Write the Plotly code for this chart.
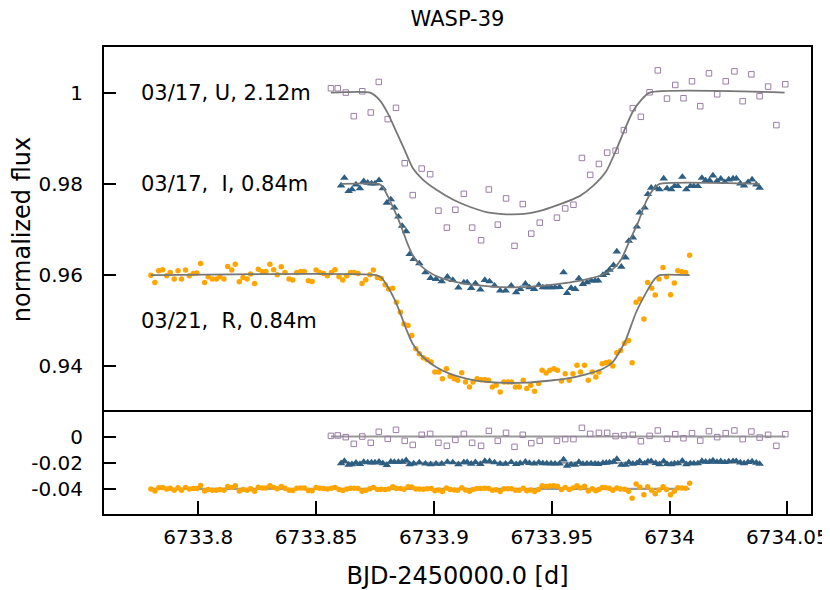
import plotly.graph_objects as go

# ---- data ----
# 03/21, R band, 0.84m
r_time = [6733.7799, 6733.7816, 6733.7832, 6733.7849, 6733.7866, 6733.7881, 6733.7898, 6733.7914, 6733.7929, 6733.7946,
          6733.7962, 6733.7979, 6733.7994, 6733.8010, 6733.8027, 6733.8042, 6733.8060, 6733.8077, 6733.8092, 6733.8109,
          6733.8125, 6733.8142, 6733.8157, 6733.8174, 6733.8190, 6733.8207, 6733.8222, 6733.8239, 6733.8255, 6733.8272,
          6733.8287, 6733.8304, 6733.8320, 6733.8335, 6733.8352, 6733.8368, 6733.8385, 6733.8401, 6733.8418, 6733.8435,
          6733.8450, 6733.8467, 6733.8483, 6733.8500, 6733.8515, 6733.8532, 6733.8548, 6733.8565, 6733.8580, 6733.8597,
          6733.8613, 6733.8630, 6733.8646, 6733.8662, 6733.8678, 6733.8695, 6733.8711, 6733.8728, 6733.8743, 6733.8760,
          6733.8776, 6733.8793, 6733.8808, 6733.8825, 6733.8841, 6733.8858, 6733.8873, 6733.8890, 6733.8906, 6733.8923,
          6733.8938, 6733.8955, 6733.8971, 6733.8988, 6733.9004, 6733.9021, 6733.9036, 6733.9053, 6733.9069, 6733.9086,
          6733.9101, 6733.9118, 6733.9134, 6733.9151, 6733.9166, 6733.9183, 6733.9199, 6733.9216, 6733.9232, 6733.9248,
          6733.9264, 6733.9281, 6733.9297, 6733.9314, 6733.9329, 6733.9346, 6733.9362, 6733.9379, 6733.9394, 6733.9411,
          6733.9427, 6733.9444, 6733.9459, 6733.9476, 6733.9492, 6733.9509, 6733.9524, 6733.9541, 6733.9557, 6733.9574,
          6733.9590, 6733.9607, 6733.9622, 6733.9639, 6733.9655, 6733.9672, 6733.9687, 6733.9700, 6733.9714, 6733.9729,
          6733.9744, 6733.9759, 6733.9776, 6733.9792, 6733.9809, 6733.9826, 6733.9841, 6733.9858, 6733.9874, 6733.9891,
          6733.9907, 6733.9924, 6733.9939, 6733.9955, 6733.9972, 6733.9987, 6734.0004, 6734.0020, 6734.0035, 6734.0052,
          6734.0068, 6734.0085]
r_flux = [0.96000, 0.95840, 0.96095, 0.96117, 0.95986, 0.96059, 0.95913, 0.96095, 0.95913, 0.96110,
          0.95986, 0.96037, 0.96044, 0.96255, 0.95840, 0.95964, 0.95913, 0.95913, 0.95964, 0.95913,
          0.96190, 0.96110, 0.96240, 0.95855, 0.95950, 0.95913, 0.96022, 0.95819, 0.96131, 0.96073,
          0.96080, 0.96240, 0.96117, 0.96008, 0.96182, 0.96059, 0.95913, 0.95891, 0.96059, 0.96080,
          0.96080, 0.95877, 0.95862, 0.96110, 0.96059, 0.96037, 0.95986, 0.96059, 0.96117, 0.95964,
          0.95891, 0.95986, 0.96059, 0.96059, 0.96037, 0.95819, 0.95899, 0.96008, 0.96110, 0.95950,
          0.95928, 0.95790, 0.95695, 0.95710, 0.95404, 0.95186, 0.94931, 0.94895, 0.94677, 0.94386,
          0.94277, 0.94189, 0.94146, 0.94095, 0.93877, 0.93877, 0.93731, 0.93949, 0.93782, 0.93731,
          0.93695, 0.93862, 0.93658, 0.93549, 0.93658, 0.93731, 0.93709, 0.93709, 0.93695, 0.93549,
          0.93586, 0.93440, 0.93658, 0.93658, 0.93658, 0.93549, 0.93549, 0.93695, 0.93513, 0.93586,
          0.93455, 0.93622, 0.93913, 0.93855, 0.93913, 0.93949, 0.93913, 0.93680, 0.93840, 0.93695,
          0.93840, 0.94022, 0.93877, 0.94022, 0.93695, 0.93877, 0.93768, 0.93877, 0.94058, 0.94080,
          0.94095, 0.94008, 0.94298, 0.94349, 0.94509, 0.94568, 0.94080, 0.95404, 0.95477, 0.95040,
          0.95840, 0.95710, 0.95564, 0.95913, 0.96168, 0.95964, 0.95571, 0.95826, 0.96095, 0.96073,
          0.96059, 0.96437]
r_resid = [0.0000, -0.0016, 0.0010, 0.0012, -0.0001, 0.0006, -0.0009, 0.0010, -0.0009, 0.0011,
           -0.0001, 0.0004, 0.0004, 0.0026, -0.0016, -0.0004, -0.0009, -0.0009, -0.0004, -0.0009,
           0.0019, 0.0011, 0.0024, -0.0015, -0.0005, -0.0009, 0.0002, -0.0018, 0.0013, 0.0007,
           0.0008, 0.0024, 0.0012, 0.0001, 0.0018, 0.0006, -0.0009, -0.0011, 0.0006, 0.0008,
           0.0008, -0.0012, -0.0014, 0.0011, 0.0006, 0.0004, -0.0001, 0.0006, 0.0012, -0.0004,
           -0.0011, -0.0001, 0.0006, 0.0006, 0.0004, -0.0018, -0.0010, 0.0001, 0.0011, -0.0004,
           -0.0002, -0.0004, -0.0001, 0.0016, 0.0004, 0.0003, -0.0002, 0.0017, 0.0014, -0.0001,
           -0.0001, -0.0002, 0.0002, 0.0003, -0.0013, -0.0008, -0.0019, 0.0008, -0.0005, -0.0008,
           -0.0009, 0.0010, -0.0008, -0.0017, -0.0005, 0.0004, 0.0003, 0.0005, 0.0004, -0.0010,
           -0.0006, -0.0020, 0.0002, 0.0002, 0.0002, -0.0009, -0.0009, 0.0005, -0.0013, -0.0007,
           -0.0020, -0.0004, 0.0024, 0.0018, 0.0022, 0.0025, 0.0020, -0.0004, 0.0011, -0.0005,
           0.0008, 0.0024, 0.0008, 0.0020, -0.0015, 0.0001, -0.0013, -0.0005, 0.0012, 0.0009,
           0.0005, -0.0009, 0.0007, -0.0001, -0.0002, -0.0018, -0.0071, 0.0038, 0.0013, -0.0045,
           0.0017, -0.0010, -0.0036, -0.0008, 0.0017, -0.0004, -0.0045, -0.0017, 0.0010, 0.0007,
           0.0006, 0.0044]
r_model_t = [6733.7799, 6733.8755, 6733.8776, 6733.8797, 6733.8825, 6733.8853, 6733.8882, 6733.8910, 6733.8938, 6733.8967,
             6733.9009, 6733.9066, 6733.9137, 6733.9221, 6733.9306, 6733.9391, 6733.9476, 6733.9561, 6733.9646, 6733.9717,
             6733.9759, 6733.9795, 6733.9816, 6733.9858, 6733.9901, 6733.9936, 6733.9957, 6734.0085]
r_model_f = [0.96, 0.96, 0.95950, 0.95804, 0.95549, 0.95222, 0.94822, 0.94495, 0.94291, 0.94146,
             0.93986, 0.93840, 0.93731, 0.93658, 0.93637, 0.93644, 0.93680, 0.93731, 0.93826, 0.93949,
             0.94095, 0.94386, 0.94604, 0.95186, 0.95622, 0.95913, 0.96, 0.96]

# 03/17, I band, 0.84m
i_time = [6733.8606, 6733.8620, 6733.8638, 6733.8652, 6733.8669, 6733.8686, 6733.8702, 6733.8719, 6733.8735, 6733.8750,
          6733.8767, 6733.8783, 6733.8800, 6733.8817, 6733.8832, 6733.8849, 6733.8865, 6733.8882, 6733.8897, 6733.8914,
          6733.8938, 6733.8964, 6733.8986, 6733.9009, 6733.9033, 6733.9057, 6733.9080, 6733.9104, 6733.9127, 6733.9141,
          6733.9158, 6733.9176, 6733.9197, 6733.9216, 6733.9236, 6733.9257, 6733.9281, 6733.9304, 6733.9328, 6733.9349,
          6733.9366, 6733.9388, 6733.9405, 6733.9425, 6733.9445, 6733.9462, 6733.9479, 6733.9497, 6733.9514, 6733.9533,
          6733.9550, 6733.9565, 6733.9582, 6733.9599, 6733.9615, 6733.9632, 6733.9649, 6733.9667, 6733.9684, 6733.9697,
          6733.9717, 6733.9731, 6733.9745, 6733.9762, 6733.9776, 6733.9795, 6733.9813, 6733.9827, 6733.9844, 6733.9861,
          6733.9873, 6733.9894, 6733.9908, 6733.9922, 6733.9941, 6733.9957, 6733.9975, 6733.9989, 6734.0007, 6734.0021,
          6734.0035, 6734.0054, 6734.0071, 6734.0088, 6734.0103, 6734.0120, 6734.0137, 6734.0153, 6734.0170, 6734.0184,
          6734.0201, 6734.0217, 6734.0234, 6734.0251, 6734.0269, 6734.0283, 6734.0300, 6734.0316, 6734.0333, 6734.0350,
          6734.0368, 6734.0382]
i_flux = [0.97964, 0.98131, 0.97841, 0.97877, 0.97986, 0.97899, 0.98059, 0.98022, 0.98008, 0.98008,
          0.98081, 0.97899, 0.97586, 0.97659, 0.97477, 0.97281, 0.97077, 0.96961, 0.96459, 0.96350,
          0.96255, 0.96059, 0.95935, 0.95913, 0.95862, 0.95964, 0.95891, 0.95724, 0.95841, 0.95841,
          0.95717, 0.95819, 0.95680, 0.95891, 0.95862, 0.95768, 0.95659, 0.95659, 0.95768, 0.95622,
          0.95695, 0.95811, 0.95731, 0.95695, 0.95782, 0.95731, 0.95731, 0.95731, 0.95731, 0.95739,
          0.96059, 0.95608, 0.95717, 0.95695, 0.95928, 0.95804, 0.95841, 0.95877, 0.95877, 0.95877,
          0.96001, 0.96044, 0.96117, 0.96219, 0.96517, 0.96182, 0.96386, 0.96750, 0.96822, 0.97062,
          0.97368, 0.97477, 0.97775, 0.97913, 0.97913, 0.97877, 0.98117, 0.97899, 0.97877, 0.97950,
          0.97950, 0.98153, 0.97877, 0.97950, 0.97950, 0.97950, 0.98131, 0.98073, 0.98073, 0.98182,
          0.98059, 0.98110, 0.98037, 0.98095, 0.98117, 0.98117, 0.98008, 0.97964, 0.98037, 0.98095,
          0.97986, 0.97913]
i_resid = [-0.0004, 0.0013, -0.0016, -0.0012, -0.0001, -0.0010, 0.0006, 0.0002, 0.0001, 0.0001,
           0.0008, -0.0004, -0.0018, 0.0007, 0.0006, 0.0006, 0.0007, 0.0019, -0.0013, -0.0006,
           0.0001, -0.0007, -0.0012, -0.0008, -0.0008, 0.0006, 0.0002, -0.0012, 0.0003, 0.0003,
           -0.0008, 0.0003, -0.0010, 0.0013, 0.0011, 0.0002, -0.0008, -0.0008, 0.0004, -0.0011,
           -0.0004, 0.0007, -0.0002, -0.0006, 0.0002, -0.0004, -0.0005, -0.0006, -0.0007, -0.0007,
           0.0024, -0.0023, -0.0013, -0.0017, 0.0005, -0.0009, -0.0007, -0.0006, -0.0008, -0.0010,
           -0.0002, -0.0001, 0.0002, 0.0007, 0.0028, -0.0017, -0.0017, 0.0003, -0.0008, -0.0003,
           0.0012, -0.0005, 0.0010, 0.0012, -0.0002, -0.0012, 0.0012, -0.0010, -0.0012, -0.0005,
           -0.0005, 0.0015, -0.0012, -0.0005, -0.0005, -0.0005, 0.0013, 0.0007, 0.0007, 0.0018,
           0.0006, 0.0011, 0.0004, 0.0010, 0.0012, 0.0012, 0.0001, -0.0004, 0.0004, 0.0010,
           -0.0001, -0.0009]
i_model_t = [6733.8606, 6733.8766, 6733.8783, 6733.8804, 6733.8825, 6733.8846, 6733.8868, 6733.8889, 6733.8910,
             6733.8931, 6733.8967, 6733.9023, 6733.9122, 6733.9236, 6733.9335, 6733.9434, 6733.9547, 6733.9632,
             6733.9703, 6733.9759, 6733.9795, 6733.9830, 6733.9866, 6733.9901, 6733.9936, 6733.9958, 6734.0382]
i_model_f = [0.98, 0.98, 0.97935, 0.97731, 0.97499, 0.97259, 0.96968, 0.96677, 0.96437,
             0.96277, 0.96110, 0.95950, 0.95819, 0.95753, 0.95731, 0.95753, 0.95819, 0.95891,
             0.95986, 0.96131, 0.96350, 0.96750, 0.97150, 0.97622, 0.97913, 0.98, 0.98]

# 03/17, U band, 2.12m
u_time = [6733.8563, 6733.8592, 6733.8626, 6733.8660, 6733.8696, 6733.8732, 6733.8766, 6733.8804, 6733.8839, 6733.8876,
          6733.8910, 6733.8948, 6733.8984, 6733.9019, 6733.9055, 6733.9091, 6733.9127, 6733.9162, 6733.9200, 6733.9233,
          6733.9271, 6733.9306, 6733.9342, 6733.9377, 6733.9413, 6733.9449, 6733.9522, 6733.9557, 6733.9592, 6733.9628,
          6733.9663, 6733.9700, 6733.9735, 6733.9771, 6733.9806, 6733.9844, 6733.9878, 6733.9915, 6733.9950, 6733.9989,
          6734.0024, 6734.0059, 6734.0095, 6734.0130, 6734.0167, 6734.0202, 6734.0238, 6734.0275, 6734.0310, 6734.0347,
          6734.0382, 6734.0418, 6734.0453, 6734.0491]
u_flux = [1.00095, 1.00095, 1.00001, 0.99484, 1.00030, 0.99564, 1.00234, 0.99419, 0.99666, 0.98452,
          0.97753, 0.98335, 0.98212, 0.97412, 0.97041, 0.97433, 0.97782, 0.97041, 0.96764, 0.97877,
          0.97106, 0.97681, 0.96641, 0.97557, 0.96910, 0.97150, 0.97259, 0.97462, 0.97543, 0.98568,
          0.98197, 0.98437, 0.98684, 0.98728, 0.99179, 0.99659, 0.99470, 1.00008, 1.00488, 0.99870,
          1.00168, 0.99877, 1.00248, 0.99703, 1.00423, 0.99964, 1.00248, 1.00466, 0.99812, 1.00401,
          0.99921, 1.00132, 0.99288, 1.00183]
u_resid = [0.0005, 0.0008, -0.0005, -0.0056, 0.0000, -0.0048, 0.0036, -0.0018, 0.0051, -0.0033,
           -0.0064, 0.0013, 0.0020, -0.0048, -0.0071, -0.0026, 0.0020, -0.0048, -0.0071, 0.0043,
           -0.0033, 0.0028, -0.0079, 0.0013, -0.0051, -0.0033, -0.0033, -0.0020, -0.0020, 0.0066,
           0.0020, 0.0028, 0.0028, 0.0003, 0.0008, 0.0013, -0.0036, 0.0005, 0.0046, -0.0018,
           0.0018, -0.0013, 0.0026, -0.0031, 0.0041, -0.0005, 0.0026, 0.0046, -0.0020, 0.0038,
           -0.0008, 0.0013, -0.0071, 0.0018]
u_model_t = [6733.8563, 6733.8729, 6733.8769, 6733.8804, 6733.8846, 6733.8875, 6733.8910, 6733.8953, 6733.9009,
             6733.9080, 6733.9151, 6733.9222, 6733.9292, 6733.9335, 6733.9391, 6733.9462, 6733.9533, 6733.9618,
             6733.9674, 6733.9731, 6733.9774, 6733.9809, 6733.9844, 6733.9880, 6733.9915, 6734.0488]
u_model_f = [1.0, 1.0, 0.99841, 0.99550, 0.99077, 0.98750, 0.98350, 0.98095, 0.97877,
             0.97659, 0.97499, 0.97382, 0.97339, 0.97332, 0.97346, 0.97426, 0.97550, 0.97732,
             0.97950, 0.98277, 0.98750, 0.99186, 0.99586, 0.99841, 1.0, 1.0]

# residual offsets in the lower panel
u_off, i_off, r_off = 0.0, -0.02, -0.04

labels = ["03/17, U, 2.12m", "03/17,\u00a0\u00a0I, 0.84m", "03/21,\u00a0\u00a0R, 0.84m"]
label_y = [1.0, 0.98, 0.95]

x_ticks = [6733.8, 6733.85, 6733.9, 6733.95, 6734, 6734.05]
x_ticktext = ["6733.8", "6733.85", "6733.9", "6733.95", "6734", "6734.05"]
y_ticks = [0.94, 0.96, 0.98, 1]
y_ticktext = ["0.94", "0.96", "0.98", "1"]
res_ticks = [0, -0.02, -0.04]
res_ticktext = ["0", "-0.02", "-0.04"]

U_COL = "#9a7fa5"
I_COL = "#2e5e82"
R_COL = "#ffa500"
MODEL_COL = "#777777"
RES_LINE_COL = "#999999"

fig = go.Figure()

# upper panel
fig.add_trace(go.Scatter(x=u_time, y=u_flux, mode="markers", xaxis="x", yaxis="y",
                         marker=dict(symbol="square-open", size=5.5, color=U_COL, line=dict(width=1, color=U_COL))))
fig.add_trace(go.Scatter(x=u_model_t, y=u_model_f, mode="lines", xaxis="x", yaxis="y",
                         line=dict(color=MODEL_COL, width=1.8, shape="spline", smoothing=0.6)))
fig.add_trace(go.Scatter(x=i_time, y=i_flux, mode="markers", xaxis="x", yaxis="y",
                         marker=dict(symbol="triangle-up", size=7.5, color=I_COL, line=dict(width=0))))
fig.add_trace(go.Scatter(x=i_model_t, y=i_model_f, mode="lines", xaxis="x", yaxis="y",
                         line=dict(color=MODEL_COL, width=1.8, shape="spline", smoothing=0.6)))
fig.add_trace(go.Scatter(x=r_time, y=r_flux, mode="markers", xaxis="x", yaxis="y",
                         marker=dict(symbol="circle", size=5.5, color=R_COL, line=dict(width=0))))
fig.add_trace(go.Scatter(x=r_model_t, y=r_model_f, mode="lines", xaxis="x", yaxis="y",
                         line=dict(color=MODEL_COL, width=1.8, shape="spline", smoothing=0.6)))

# lower panel: residuals
for t, res, off, col, sym, sz in [
    (u_time, u_resid, u_off, U_COL, "square-open", 5.5),
    (i_time, i_resid, i_off, I_COL, "triangle-up", 7.5),
    (r_time, r_resid, r_off, R_COL, "circle", 5.5),
]:
    fig.add_trace(go.Scatter(x=[t[0], t[-1]], y=[off, off], mode="lines", xaxis="x2", yaxis="y2",
                             line=dict(color=RES_LINE_COL, width=2.2)))
    fig.add_trace(go.Scatter(x=t, y=[v + off for v in res], mode="markers", xaxis="x2", yaxis="y2",
                             marker=dict(symbol=sym, size=sz, color=col,
                                         line=dict(width=1 if sym == "square-open" else 0, color=col))))

for txt, yy in zip(labels, label_y):
    fig.add_annotation(x=6733.7749, y=yy, xref="x", yref="y", text=txt, showarrow=False,
                       xanchor="left", yanchor="middle", font=dict(size=21, color="black"))

split = 102 / 467
frame = dict(showline=True, linecolor="black", linewidth=2,
             showgrid=False, zeroline=False, automargin=False)

# the page body adds an 8px offset, so the figure is 8px smaller than the window
fig.update_layout(
    width=822, height=582,
    margin=dict(l=96, r=19, t=39, b=76),
    paper_bgcolor="white", plot_bgcolor="white",
    font=dict(family="DejaVu Sans", size=20, color="black"),
    showlegend=False,
    title=dict(text="WASP-39", x=0.5, xref="paper", y=0.982, yref="container",
               xanchor="center", yanchor="middle", font=dict(size=21)),
    # top frame of the upper panel only; its bottom edge comes from the lower panel
    xaxis=dict(domain=[0, 1], anchor="y", side="top", mirror=False, range=[6733.76, 6734.06],
               ticks="", showticklabels=False, **frame),
    yaxis=dict(domain=[split, 1], anchor="x", mirror=True, range=[0.93, 1.01],
               tickvals=y_ticks, ticktext=y_ticktext, ticks="inside", ticklen=12,
               tickwidth=1.5, tickcolor="black", ticklabelstandoff=15,
               title=dict(text="normalized flux", standoff=7), **frame),
    xaxis2=dict(domain=[0, 1], anchor="y2", mirror=True, range=[6733.76, 6734.06],
                tickvals=x_ticks, ticktext=x_ticktext, ticks="inside", ticklen=13,
                tickwidth=1.5, tickcolor="black", ticklabelstandoff=4,
                title=dict(text="BJD-2450000.0 [d]", standoff=29), **frame),
    yaxis2=dict(domain=[0, split], anchor="x2", mirror=True, range=[-0.0591, 0.0187],
                tickvals=res_ticks, ticktext=res_ticktext, ticks="inside", ticklen=12,
                tickwidth=1.5, tickcolor="black", ticklabelstandoff=15, **frame),
)

fig.write_html("out.html")
